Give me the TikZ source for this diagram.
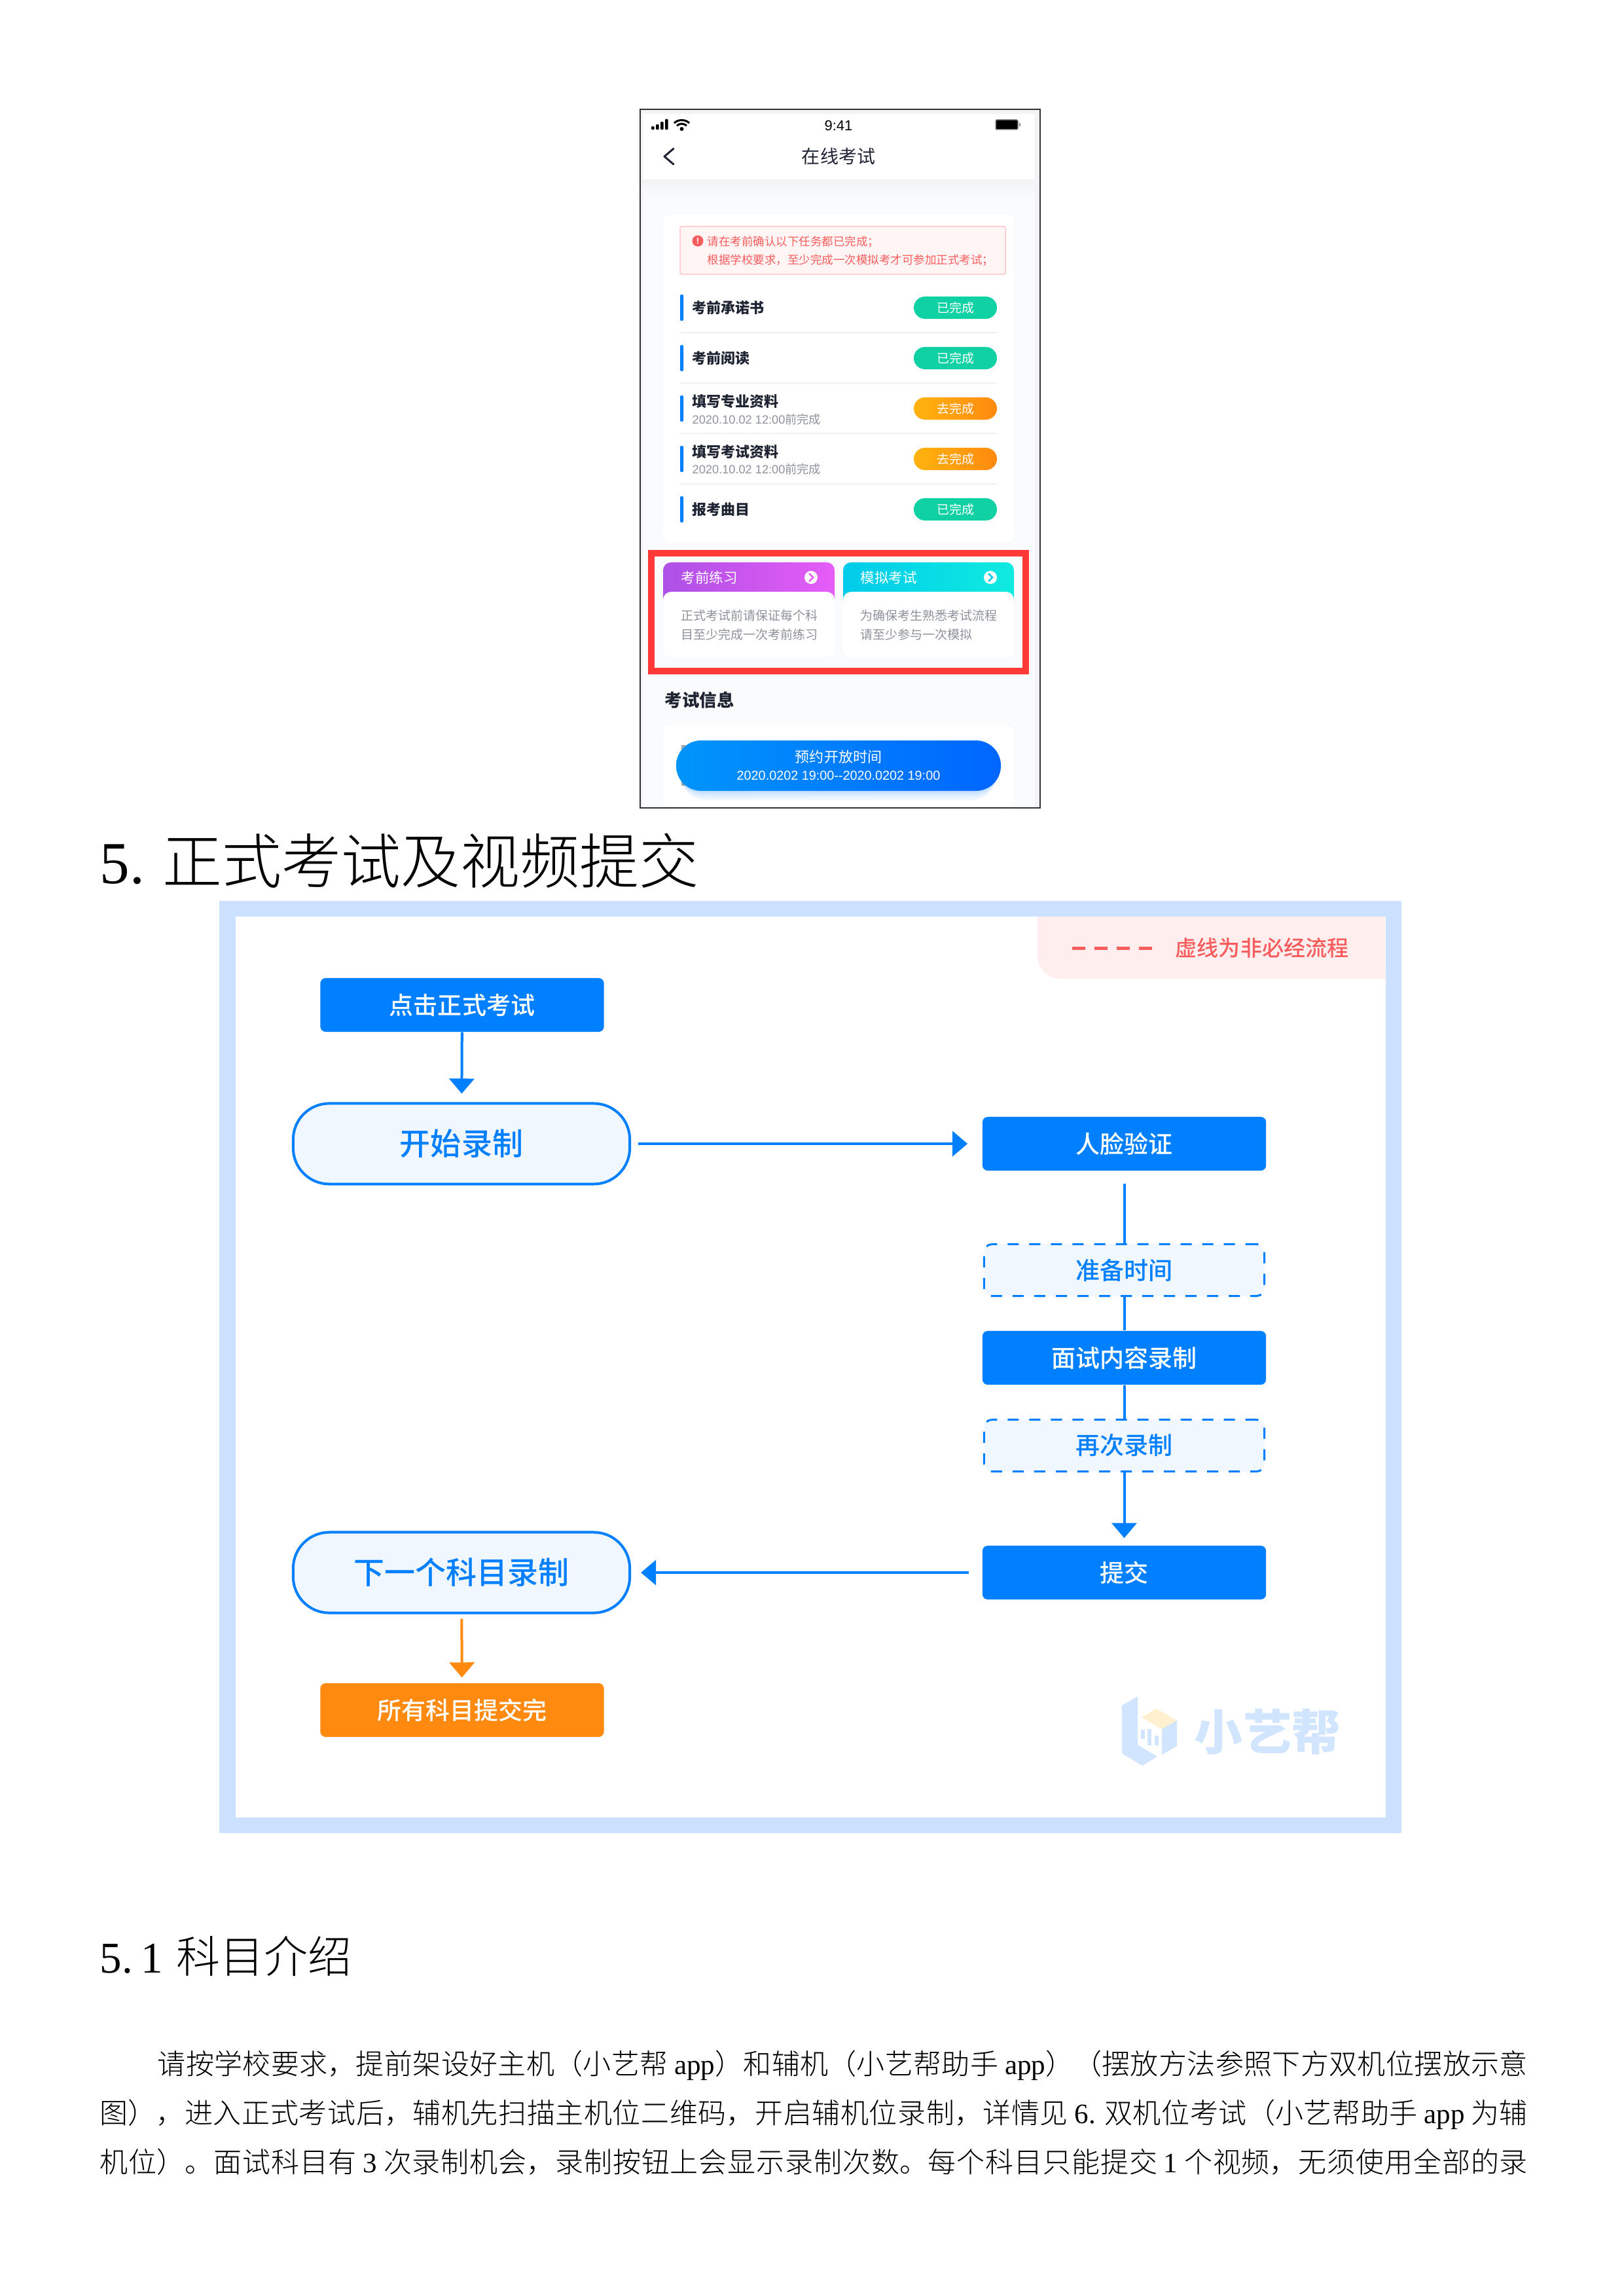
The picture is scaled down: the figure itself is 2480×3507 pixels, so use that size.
\documentclass[tikz,border=0pt]{standalone}
\usepackage{fontspec}
\usetikzlibrary{arrows.meta,positioning,calc}
\setmainfont{Liberation Serif}
\newfontfamily\cjk{Noto Sans CJK SC}
\newfontfamily\cjkthin{Noto Sans CJK SC Light}
\newfontfamily\cjkmid{Noto Sans CJK SC Medium}
\newfontfamily\uifont{Liberation Sans}
\XeTeXlinebreaklocale "zh"
\XeTeXlinebreakskip=0pt plus 4pt
\definecolor{FlowBlue}{HTML}{007FFF}
\definecolor{FlowPale}{HTML}{F0F7FF}
\definecolor{FrameBlue}{HTML}{CCE1FF}
\definecolor{LegendPink}{HTML}{FFEEED}
\definecolor{LegendRed}{HTML}{F85D5D}
\definecolor{FlowOrange}{HTML}{FF8A0F}
\definecolor{PhoneGrey}{HTML}{F3F3F5}
\definecolor{PhoneBack}{HTML}{FAFBFC}
\definecolor{PhoneInk}{HTML}{1F2433}
\definecolor{NoteGrey}{HTML}{8E929B}
\definecolor{PillGreen}{HTML}{10D1A3}
\definecolor{PillAmber}{HTML}{FFB30F}
\definecolor{MarkBlue}{HTML}{D2E5FF}
\definecolor{MarkYellow}{HTML}{FFF0CF}
\definecolor{FrameRed}{HTML}{FF3838}
\definecolor{PurpleA}{HTML}{AE50E6}
\definecolor{PurpleB}{HTML}{E65CF7}
\definecolor{CyanA}{HTML}{00CBEA}
\definecolor{CyanB}{HTML}{10EBE0}
\definecolor{SlotA}{HTML}{0095FB}
\definecolor{SlotB}{HTML}{0066FF}
\newcommand{\pxfont}[1]{\pgfmathsetlengthmacro\pxsize{#1*0.28453}\fontsize{\pxsize}{\pxsize}\selectfont}
\tikzset{
  flowbox/.style={rectangle,rounded corners=0.08cm,minimum width=4.33cm,minimum height=0.82cm,inner sep=0pt,fill=FlowBlue,text=white,font=\cjkmid\pxfont{37}},
  flowdash/.style={flowbox,fill=FlowPale,draw=FlowBlue,line width=0.03cm,rounded corners=0.12cm,dash pattern=on 0.17cm off 0.16cm,text=FlowBlue,minimum width=4.28cm,minimum height=0.79cm},
  flowpill/.style={rectangle,rounded corners=0.55cm,minimum width=5.14cm,minimum height=1.23cm,inner sep=0pt,fill=FlowPale,draw=FlowBlue,line width=0.04cm,text=FlowBlue,font=\cjkmid\pxfont{47}},
  flowline/.style={draw=FlowBlue,line width=0.04cm},
  flowtip/.style={-{Triangle[length=0.23cm,width=0.38cm]}},
  rowpill/.style={rectangle,rounded corners=0.17cm,minimum width=1.27cm,minimum height=0.34cm,inner sep=0pt,text=white,font=\cjk\pxfont{19}},
  pillgreen/.style={rowpill,fill=PillGreen},
  pillorange/.style={rowpill,left color=PillAmber,right color=FlowOrange},
  rowlabel/.style={anchor=west,inner sep=0pt,text=PhoneInk,font=\cjk\bfseries\pxfont{22}},
  rownote/.style={anchor=west,inner sep=0pt,text=NoteGrey,font=\uifont\pxfont{18.2}},
  cardtext/.style={anchor=west,inner sep=0pt,text=NoteGrey,font=\cjk\pxfont{19}},
  alerttext/.style={anchor=west,inner sep=0pt,text=LegendRed,font=\cjk\pxfont{17.5}},
  pagetext/.style={anchor=base west,inner sep=0pt,text=black},
  bodyline/.style={pagetext,text width=#1,align=justify,font=\cjkthin\pxfont{43}}
}
\begin{document}
\begin{tikzpicture}[x=0.01cm,y=-0.01cm]
  \useasboundingbox (0,0) rectangle (2480,3507);
  \fill[white] (0,0) rectangle (2480,3507);
  % phone screen
  \fill[PhoneGrey] (979,168) rectangle (1588,1233);
  \fill[PhoneBack] (982,174) rectangle (1581,1233);
  \fill[white] (982,174) rectangle (1581,275);
  \shade[top color=PhoneGrey,bottom color=PhoneBack] (982,275) rectangle (1581,300);
  \foreach \i/\h in {0/5,1/8,2/12,3/16}{
    \fill[black,rounded corners=0.01cm] (995+\i*7,198-\h) rectangle ++(4.5,\h);
  }
  \draw[black,line width=0.03cm] (1030,188) .. controls (1036,182) and (1047,182) .. (1053,188);
  \draw[black,line width=0.03cm] (1034,192) .. controls (1039,188) and (1044,188) .. (1049,192);
  \fill[black] (1041.5,197) circle (3);
  \node (clock) at (1281,192) [inner sep=0pt,text=black,font=\uifont\pxfont{22}] {9:41};
  \draw[black!45,line width=0.015cm,rounded corners=0.02cm,fill=black] (1521,183) rectangle (1555,198);
  \fill[black!45] (1557,188) rectangle (1559,193);
  \draw[PhoneInk,line width=0.03cm,line cap=round,line join=round] (1029,227) -- (1015,239) -- (1029,251);
  \node (title) at (1281,239) [inner sep=0pt,text=PhoneInk,font=\cjk\pxfont{28}] {在线考试};
  % task card
  \fill[white,rounded corners=0.12cm] (1013,327) rectangle (1549,829);
  \draw[red!22,fill=red!4,line width=0.015cm,rounded corners=0.02cm] (1039,346) rectangle (1536,419);
  \node (warn) at (1066,368) [circle,minimum size=0.17cm,inner sep=0pt,fill=LegendRed,text=white,font=\uifont\bfseries\pxfont{13}] {!};
  \node (alertA) at (1080,369) [alerttext] {请在考前确认以下任务都已完成；};
  \node (alertB) at (1080,397) [alerttext] {根据学校要求，至少完成一次模拟考才可参加正式考试；};
  \foreach \n/\txt/\dy/\stat/\sty in {1/考前承诺书/0/已完成/pillgreen,2/考前阅读/0/已完成/pillgreen,3/填写专业资料/-11/去完成/pillorange,4/填写考试资料/-11/去完成/pillorange,5/报考曲目/0/已完成/pillgreen}{
    \pgfmathsetmacro{\yy}{470+77*(\n-1)}
    \fill[FlowBlue,rounded corners=0.02cm] (1039,\yy-20) rectangle (1044,\yy+20);
    \node (row\n) at (1057,\yy+\dy) [rowlabel] {\txt};
    \node (pill\n) at (1459.5,\yy) [\sty] {\stat};
    \ifnum\n<5
      \draw[black!6,line width=0.015cm] (1039,\yy+38) -- (1523,\yy+38);
    \fi
  }
  \foreach \n/\ys in {3/641,4/717}{
    \node (note\n) at (1057,\ys) [rownote] {2020.10.02 12:00{\cjk 前完成}};
  }
  % practice cards
  \draw[FrameRed,line width=0.095cm] (995,845) rectangle (1567,1025);
  \shade[left color=PurpleA,right color=PurpleB,rounded corners=0.12cm] (1013,859) rectangle (1275,925);
  \shade[left color=CyanA,right color=CyanB,rounded corners=0.12cm] (1288,859) rectangle (1549,925);
  \fill[white,rounded corners=0.12cm] (1013,904) rectangle (1275,1004);
  \fill[white,rounded corners=0.12cm] (1288,904) rectangle (1549,1004);
  \node (practice) at (1040,882) [anchor=west,inner sep=0pt,text=white,font=\cjk\pxfont{21.5}] {考前练习};
  \node (mock) at (1314,882) [anchor=west,inner sep=0pt,text=white,font=\cjk\pxfont{21.5}] {模拟考试};
  \foreach \cx/\col in {1239/PurpleB,1513/CyanA}{
    \fill[white] (\cx,882) circle (10);
    \draw[\col,line width=0.025cm] (\cx-3,876) -- (\cx+3,882) -- (\cx-3,888);
  }
  \node (practiceA) at (1040,940) [cardtext] {正式考试前请保证每个科};
  \node (practiceB) at (1040,969) [cardtext] {目至少完成一次考前练习};
  \node (mockA) at (1314,940) [cardtext] {为确保考生熟悉考试流程};
  \node (mockB) at (1314,969) [cardtext] {请至少参与一次模拟};
  \node (info) at (1015,1069) [anchor=west,inner sep=0pt,text=PhoneInk,font=\cjk\bfseries\pxfont{26.5}] {考试信息};
  \fill[white,rounded corners=0.12cm] (1013,1107) rectangle (1549,1233);
  \fill[black!35] (1041,1138) rectangle (1047,1200);
  \foreach \o in {14,10,6,3}{
    \fill[FlowBlue,opacity=0.06,rounded corners=0.38cm] (1033+\o/2,1131+\o) rectangle (1529-\o/2,1208+\o);
  }
  \shade[left color=SlotA,right color=SlotB,rounded corners=0.38cm] (1033,1131) rectangle (1529,1208);
  \node (slotA) at (1281,1156) [inner sep=0pt,text=white,font=\cjk\pxfont{22}] {预约开放时间};
  \node (slotB) at (1281,1185) [inner sep=0pt,text=white,font=\uifont\pxfont{19.8}] {2020.0202 19:00--2020.0202 19:00};
  \draw[black!80,line width=0.02cm] (978,167) rectangle (1589,1234);
  % section heading
  \node (secA) at (152,1349) [pagetext,font=\pxfont{91}] {5.\hspace{0.27cm}{\cjkthin 正式考试及视频提交}};
  % flow frame
  \draw[FrameBlue,line width=0.24cm,fill=white] (347.5,1388) rectangle (2128.5,2787.5);
  \fill[LegendPink] (1585,1400) [rounded corners=0.35cm] -- (1585,1495) [sharp corners] -- (2116,1495) -- (2116,1400) -- cycle;
  \coordinate (dashA) at (1638,1448);
  \coordinate (dashB) at (1760,1448);
  \draw[LegendRed,line width=0.05cm,dash pattern=on 0.2cm off 0.14cm] (dashA) -- (dashB);
  \node (legend) at (1928,1448) [inner sep=0pt,text=LegendRed,font=\cjkmid\pxfont{33}] {虚线为非必经流程};
  \node[flowbox] (click) at (706,1535) {点击正式考试};
  \node[flowpill] (start) at (705,1747) {开始录制};
  \node[flowbox] (face) at (1717.5,1747) {人脸验证};
  \node[flowdash] (prep) at (1717.5,1940) {准备时间};
  \node[flowbox] (answer) at (1717.5,2074) {面试内容录制};
  \node[flowdash] (again) at (1717.5,2208) {再次录制};
  \node[flowbox] (submit) at (1717.5,2402) {提交};
  \node[flowpill] (nextsub) at (705,2402) {下一个科目录制};
  \node[flowbox,fill=FlowOrange] (alldone) at (706,2612) {所有科目提交完};
  \draw[flowline,flowtip,shorten >=0.13cm] (click) -- (start);
  \draw[flowline,flowtip,shorten <=0.11cm,shorten >=0.22cm] (start) -- (face);
  \draw[flowline,shorten <=0.19cm] (face) -- (prep);
  \draw[flowline] (prep) -- (answer);
  \draw[flowline] (answer) -- (again);
  \draw[flowline,flowtip,shorten >=0.11cm] (again) -- (submit);
  \draw[flowline,flowtip,shorten <=0.2cm,shorten >=0.15cm] (submit) -- (nextsub);
  \draw[flowline,flowtip,draw=FlowOrange,fill=FlowOrange,shorten <=0.07cm,shorten >=0.08cm] (nextsub) -- (alldone);
  % watermark
  \fill[MarkBlue] (1714,2605) -- (1738,2591) -- (1738,2665) -- (1714,2678) -- cycle;
  \fill[MarkBlue] (1714,2678) -- (1738,2665) -- (1768,2683) -- (1745,2697) -- cycle;
  \fill[MarkYellow] (1744,2623) -- (1767,2610) -- (1798,2628) -- (1775,2641) -- cycle;
  \fill[MarkBlue] (1775,2641) -- (1798,2628) -- (1798,2667) -- (1775,2680) -- cycle;
  \foreach \xa/\ya/\yb in {1743/2642/2656,1753/2641/2666,1764/2651/2666}{
    \fill[MarkBlue] (\xa,\ya) rectangle (\xa+6,\yb);
  }
  \node (mark) at (1936,2645) [inner sep=0pt,text=MarkBlue,font=\cjk\bfseries\pxfont{74}] {小艺帮};
  % text below the flow
  \node (secB) at (152,3013) [pagetext,font=\pxfont{67}] {5.\hspace{0.13cm}1\hspace{0.2cm}{\cjkthin 科目介绍}};
  \node[bodyline=20.92cm] (lineA) at (240,3168) {\parfillskip=0pt 请按学校要求，提前架设好主机（小艺帮 {\rmfamily app}）和辅机（小艺帮助手 {\rmfamily app}）（摆放方法参照下方双机位摆放示意\par};
  \node[bodyline=21.8cm] (lineB) at (152,3243) {\parfillskip=0pt 图），进入正式考试后，辅机先扫描主机位二维码，开启辅机位录制，详情见 {\rmfamily 6.} 双机位考试（小艺帮助手 {\rmfamily app} 为辅\par};
  \node[bodyline=21.8cm] (lineC) at (152,3318) {\parfillskip=0pt 机位）。面试科目有 {\rmfamily 3} 次录制机会，录制按钮上会显示录制次数。每个科目只能提交 {\rmfamily 1} 个视频，无须使用全部的录\par};
\end{tikzpicture}
\end{document}
